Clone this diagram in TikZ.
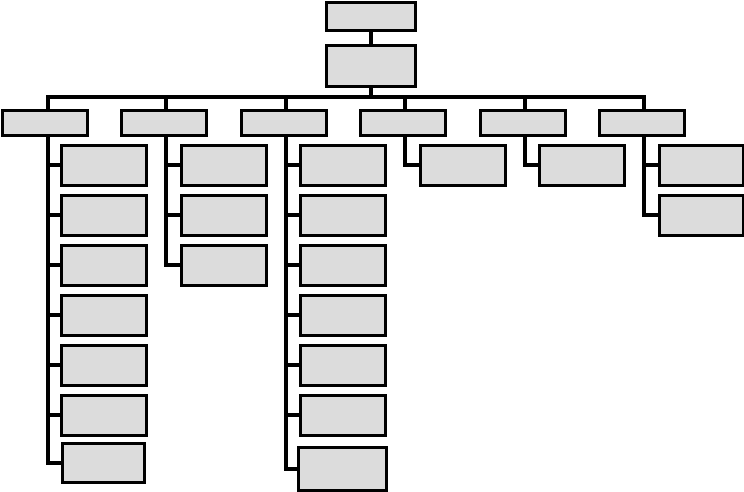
\documentclass[tikz,border=0pt]{standalone}
\usetikzlibrary{positioning, calc}
\definecolor{CajaGris}{rgb}{0.863, 0.863, 0.863}
\tikzset{
    caja/.style={draw=black, line width=2.6pt, fill=CajaGris, inner sep=0pt, anchor=north west},
    linea/.style={draw=black, line width=3.8pt},
}
\newcommand{\seccion}[2]{% nombre, x
    \node[caja, minimum width=85pt, minimum height=25pt] (#1) at (#2,109) {};
    \draw[linea] (bus) -| ([xshift=2.5pt]#1.north);
}
\newcommand{\hoja}[5][]{% opciones, nombre, padre, x, y
    \node[caja, minimum width=85pt, minimum height=40pt, #1] (#2) at (#4,#5) {};
    \draw[linea] ([xshift=2.5pt]#3.south) |- (#2.west);
}
\begin{document}
\begin{tikzpicture}[x=1pt, y=-1pt]
\useasboundingbox (0,0) rectangle (744,491);

\node[caja, minimum width=89pt, minimum height=28pt] (raiz) at (325,1.3) {};
\node[caja, minimum width=89pt, minimum height=41pt] (jefe) at (325,44) {};
\draw[linea] (raiz.south) -- (jefe.north);
\coordinate (bus) at ($(jefe.south)+(0,9)$);
\draw[linea] (jefe.south) -- (bus);

\seccion{secA}{1.3}
\seccion{secB}{120}
\seccion{secC}{240}
\seccion{secD}{359}
\seccion{secE}{479}
\seccion{secF}{598}

\hoja{a1}{secA}{60}{144}
\hoja{a2}{secA}{60}{194}
\hoja{a3}{secA}{60}{244}
\hoja{a4}{secA}{60}{294}
\hoja{a5}{secA}{60}{344}
\hoja{a6}{secA}{60}{394}
\hoja[minimum width=82pt, minimum height=39pt]{a7}{secA}{61}{442}

\hoja{b1}{secB}{180}{144}
\hoja{b2}{secB}{180}{194}
\hoja{b3}{secB}{180}{244}

\hoja{c1}{secC}{299}{144}
\hoja{c2}{secC}{299}{194}
\hoja{c3}{secC}{299}{244}
\hoja{c4}{secC}{299}{294}
\hoja{c5}{secC}{299}{344}
\hoja{c6}{secC}{299}{394}
\hoja[minimum width=88pt, minimum height=43pt]{c7}{secC}{297}{446}

\hoja{d1}{secD}{419}{144}

\hoja{e1}{secE}{538}{144}

\hoja[minimum width=84pt]{f1}{secF}{658}{144}
\hoja[minimum width=84pt]{f2}{secF}{658}{194}

\end{tikzpicture}
\end{document}
